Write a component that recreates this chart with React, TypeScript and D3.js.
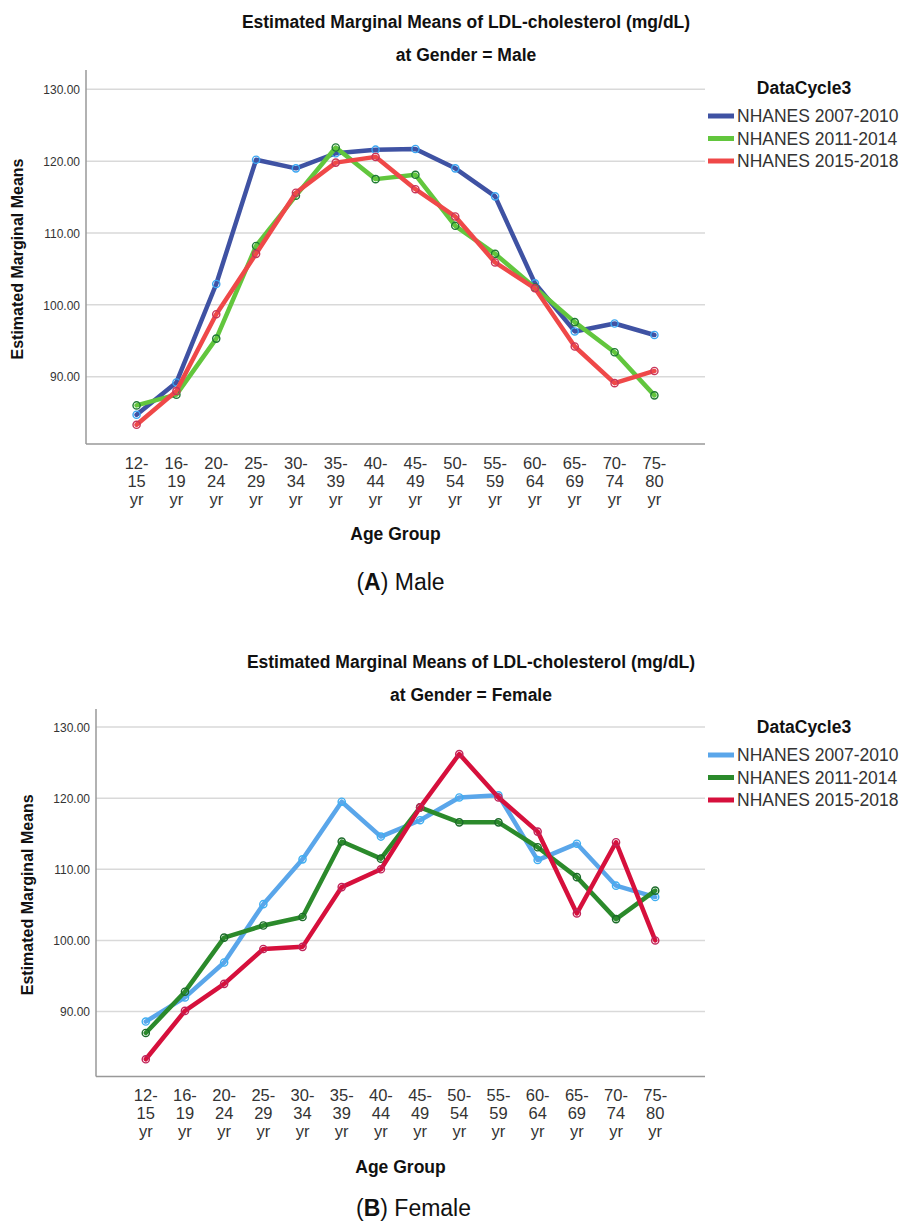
import React from "react";
import * as d3 from "d3";

const ageGroups = ["12-15 yr", "16-19 yr", "20-24 yr", "25-29 yr", "30-34 yr", "35-39 yr", "40-44 yr", "45-49 yr", "50-54 yr", "55-59 yr", "60-64 yr", "65-69 yr", "70-74 yr", "75-80 yr"];
const seriesNames = ["NHANES 2007-2010", "NHANES 2011-2014", "NHANES 2015-2018"];
const yTicks = [90, 100, 110, 120, 130];

const male2007 = [84.7, 89.2, 102.9, 120.2, 119.0, 121.1, 121.6, 121.7, 119.0, 115.1, 103.0, 96.3, 97.4, 95.8];
const male2011 = [86.0, 87.5, 95.3, 108.2, 115.2, 121.9, 117.5, 118.1, 111.0, 107.1, 102.4, 97.6, 93.4, 87.4];
const male2015 = [83.3, 88.0, 98.7, 107.1, 115.6, 119.8, 120.6, 116.1, 112.3, 105.9, 102.3, 94.2, 89.1, 90.8];

const female2007 = [88.6, 92.0, 96.9, 105.1, 111.4, 119.5, 114.6, 116.9, 120.1, 120.4, 111.3, 113.6, 107.7, 106.1];
const female2011 = [87.0, 92.8, 100.4, 102.1, 103.3, 113.9, 111.5, 118.7, 116.6, 116.6, 113.1, 108.9, 103.0, 107.0];
const female2015 = [83.3, 90.1, 93.9, 98.8, 99.1, 107.5, 110.0, 118.7, 126.2, 120.1, 115.3, 103.8, 113.8, 100.0];

const maleLineColors = ["#3f52a3", "#62c63d", "#ef4848"];
const maleMarkerColors = ["#3aa6f2", "#1f7a34", "#c8365a"];
const femaleLineColors = ["#5aa6ea", "#2b8a2b", "#d6103c"];
const femaleMarkerColors = ["#3eaef2", "#1c6b2a", "#c0245a"];

const FONT = "'Liberation Sans', Arial, Helvetica, sans-serif";

type PanelProps = {
  left: number;
  right: number;
  top: number;
  bottom: number;
  domain: [number, number];
  titleX: number;
  titleY: number;
  gender: string;
  values: number[][];
  lineColors: string[];
  markerColors: string[];
  caption: string;
  captionLetter: string;
  captionX: number;
  captionY: number;
};

function Panel(p: PanelProps) {
  const x = d3.scalePoint<string>().domain(ageGroups).range([p.left, p.right]).padding(1.27);
  const y = d3.scaleLinear().domain(p.domain).range([p.bottom, p.top]);
  const fmt = d3.format(".2f");
  const line = d3
    .line<number>()
    .x((_, i) => x(ageGroups[i]) as number)
    .y((d) => y(d));
  const legendLineX0 = 708;
  const legendLineX1 = 734;
  const legendY0 = p.top + 46;
  const plotCenter = (p.left + p.right) / 2;
  const yTitleY = (p.top + p.bottom) / 2 + 2;

  return (
    <g fontFamily={FONT}>
      <text x={p.titleX} y={p.titleY} textAnchor="middle" fontWeight="bold" fontSize={17.5} fill="#111">
        Estimated Marginal Means of LDL-cholesterol (mg/dL)
      </text>
      <text x={p.titleX} y={p.titleY + 33} textAnchor="middle" fontWeight="bold" fontSize={17.5} fill="#111">
        {`at Gender = ${p.gender}`}
      </text>

      {yTicks.map((t) => (
        <g key={t}>
          <line x1={p.left} x2={p.right} y1={y(t)} y2={y(t)} stroke="#d9d9d9" strokeWidth={1.5} />
          <text x={p.left - 6} y={y(t)} dy="0.4em" textAnchor="end" fontSize={12} fill="#333">
            {fmt(t)}
          </text>
        </g>
      ))}

      <line x1={p.left} x2={p.left} y1={p.top} y2={p.bottom} stroke="#999" strokeWidth={1.5} />
      <line x1={p.left} x2={p.right} y1={p.bottom} y2={p.bottom} stroke="#999" strokeWidth={1.5} />

      {ageGroups.map((g) => {
        const m = g.match(/^(\d+-)(\d+) (yr)$/);
        const parts = m ? [m[1], m[2], m[3]] : [g];
        return (
          <text key={g} x={x(g)} y={p.bottom + 24.5} textAnchor="middle" fontSize={16.5} fill="#333">
            {parts.map((s, i) => (
              <tspan key={i} x={x(g)} dy={i === 0 ? 0 : 18}>
                {s}
              </tspan>
            ))}
          </text>
        );
      })}

      <text x={plotCenter} y={p.bottom + 96} textAnchor="middle" fontWeight="bold" fontSize={17.5} fill="#111">
        Age Group
      </text>

      <text
        transform={`translate(${p.left - 63},${yTitleY}) rotate(-90)`}
        textAnchor="middle"
        fontWeight="bold"
        fontSize={16}
        fill="#111"
      >
        Estimated Marginal Means
      </text>

      {p.values.map((vals, si) => (
        <g key={si}>
          <path d={line(vals) as string} fill="none" stroke={p.lineColors[si]} strokeWidth={4.5} strokeLinejoin="round" strokeLinecap="round" />
          {vals.map((v, i) => (
            <circle key={i} cx={x(ageGroups[i])} cy={y(v)} r={3.6} fill="none" stroke={p.markerColors[si]} strokeWidth={1.4} />
          ))}
        </g>
      ))}

      <text x={804} y={legendY0 - 22} textAnchor="middle" fontWeight="bold" fontSize={17.5} fill="#111">
        DataCycle3
      </text>
      {seriesNames.map((n, i) => (
        <g key={n}>
          <line
            x1={legendLineX0}
            x2={legendLineX1}
            y1={legendY0 + i * 22.5}
            y2={legendY0 + i * 22.5}
            stroke={p.lineColors[i]}
            strokeWidth={5}
          />
          <text x={legendLineX1 + 3} y={legendY0 + i * 22.5} dy="0.36em" fontSize={17.5} fill="#333">
            {n}
          </text>
        </g>
      ))}

      <text x={p.captionX} y={p.captionY} textAnchor="middle" fontSize={23} fill="#111">
        (<tspan fontWeight="bold">{p.captionLetter}</tspan>) {p.caption}
      </text>
    </g>
  );
}

export default function App() {
  return (
    <svg width={905} height={1221} style={{ position: "absolute", left: 0, top: 0, background: "#fff" }}>
      <rect width={905} height={1221} fill="#fff" />
      <Panel
        left={86}
        right={705}
        top={70}
        bottom={444}
        domain={[80.63, 132.69]}
        titleX={466}
        titleY={28}
        gender="Male"
        values={[male2007, male2011, male2015]}
        lineColors={maleLineColors}
        markerColors={maleMarkerColors}
        caption="Male"
        captionLetter="A"
        captionX={400.5}
        captionY={590}
      />
      <Panel
        left={96}
        right={705}
        top={709}
        bottom={1076.5}
        domain={[80.88, 132.53]}
        titleX={471}
        titleY={668}
        gender="Female"
        values={[female2007, female2011, female2015]}
        lineColors={femaleLineColors}
        markerColors={femaleMarkerColors}
        caption="Female"
        captionLetter="B"
        captionX={413.5}
        captionY={1216}
      />
    </svg>
  );
}
